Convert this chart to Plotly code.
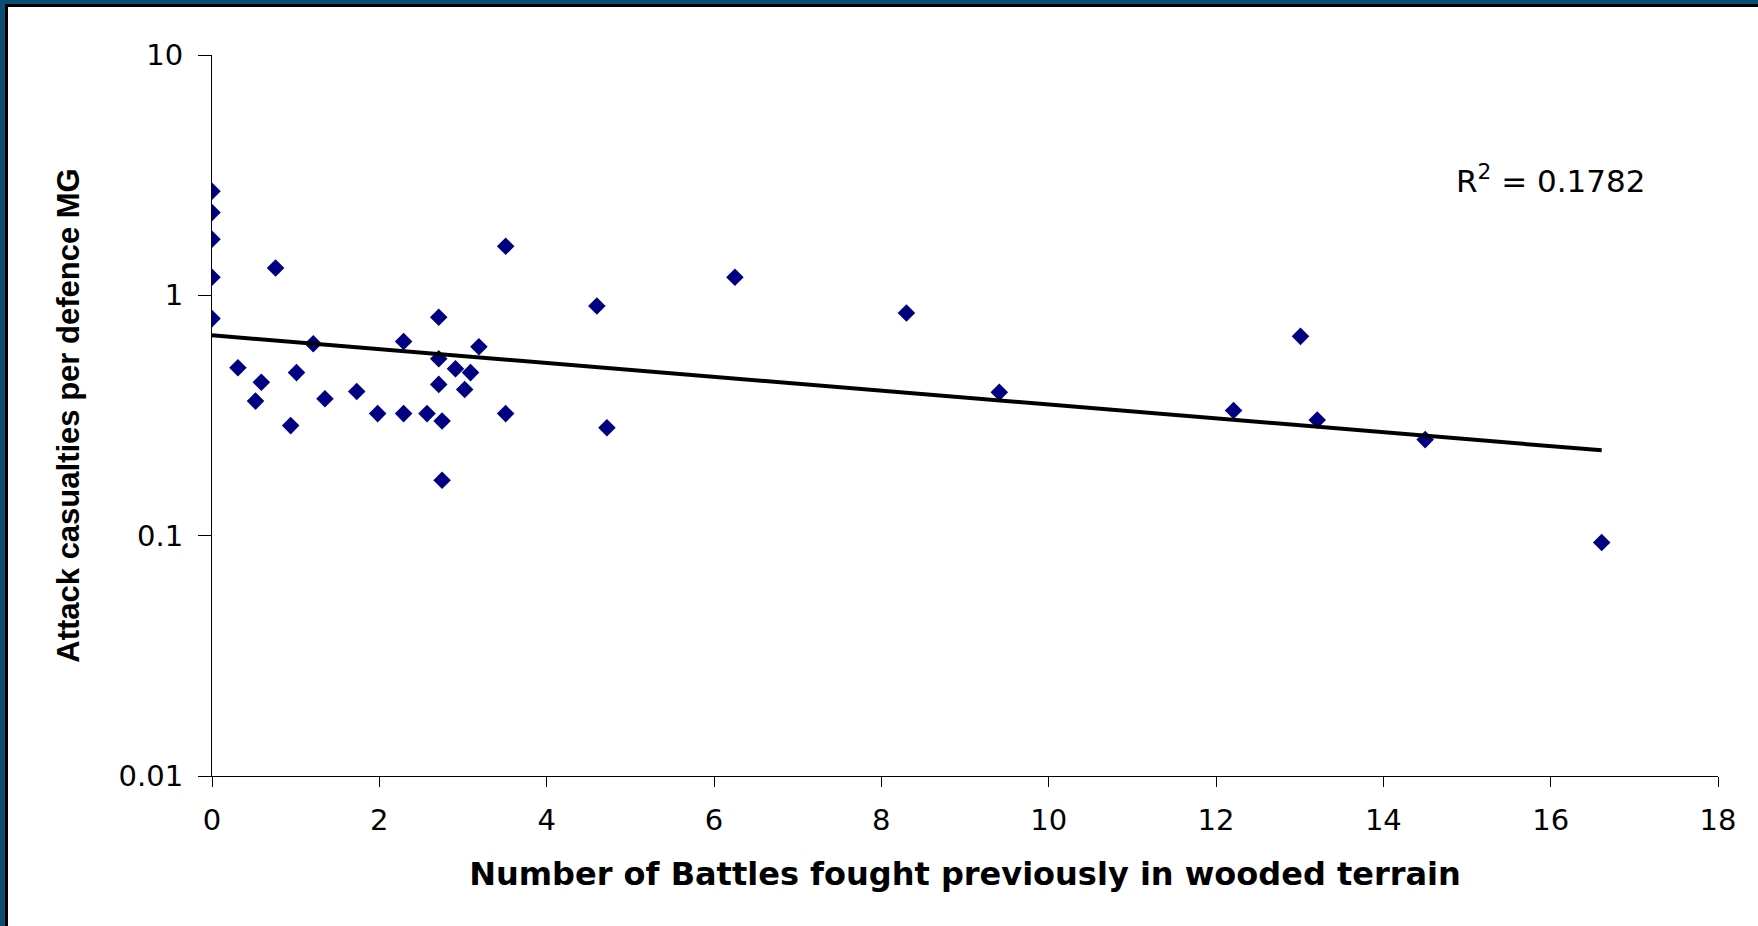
import numpy as np
import plotly.graph_objects as go

# ---- data ----
battles = [0, 0, 0, 0, 0, 0.76, 0.31, 0.59, 0.52, 0.94,
           1.01, 1.21, 1.35, 1.73, 1.98, 2.29, 2.29, 2.57, 2.71, 2.71,
           2.71, 2.75, 2.75, 2.91, 3.09, 3.02, 3.19, 3.51, 3.51, 4.60,
           4.72, 6.25, 8.30, 9.41, 12.21, 13.01, 13.21, 14.50, 16.61]
casualties = [2.71, 2.21, 1.71, 1.19, 0.80, 1.30, 0.50, 0.435, 0.363, 0.287,
              0.477, 0.629, 0.371, 0.398, 0.322, 0.322, 0.643, 0.322, 0.81, 0.545,
              0.426, 0.30, 0.17, 0.495, 0.477, 0.406, 0.611, 1.60, 0.322, 0.903,
              0.281, 1.19, 0.844, 0.395, 0.332, 0.675, 0.303, 0.251, 0.0937]

x_ticks = [0, 2, 4, 6, 8, 10, 12, 14, 16, 18]
y_ticks = [0.01, 0.1, 1, 10]
y_ticktext = ["0.01", "0.1", "1", "10"]
r2_label = "R<sup>2</sup> = 0.1782"

# exponential trendline (least squares on log values, as a spreadsheet does)
xa = np.array(battles, dtype=float)
la = np.log10(np.array(casualties, dtype=float))
slope, intercept = np.polyfit(xa, la, 1)
trend_x = [xa.min(), xa.max()]
trend_y = [10 ** (intercept + slope * v) for v in trend_x]

WIDE = "DejaVu Sans, Verdana, sans-serif"
ARIAL = "Liberation Sans, Arial, sans-serif"
NAVY = "#000080"
FRAME = "#0b4d73"

fig = go.Figure()
fig.add_trace(go.Scatter(
    x=battles, y=casualties, mode="markers",
    marker=dict(symbol="diamond", size=13.5, color=NAVY, line=dict(width=0)),
    showlegend=False, hoverinfo="x+y"))
fig.add_trace(go.Scatter(
    x=trend_x, y=trend_y, mode="lines",
    line=dict(color="black", width=4),
    showlegend=False, hoverinfo="skip"))

fig.add_annotation(x=16.0, y=np.log10(3.04), xref="x", yref="y",
                   text=r2_label, showarrow=False,
                   font=dict(family=WIDE, size=31, color="black"))

W, H = 1758, 926
L, R, T, B = 212, 40, 55, 150
PW, PH = W - L - R, H - T - B

shapes = []
def prect(x0, x1, y0, y1, color):
    # pixel rectangle relative to the plot area's bottom-left corner
    shapes.append(dict(type="rect", xref="paper", yref="paper",
                       xsizemode="pixel", ysizemode="pixel",
                       xanchor=0, yanchor=0,
                       x0=x0, x1=x1, y0=y0, y1=y1,
                       fillcolor=color, line=dict(width=0), layer="above"))

# frame: blue band on left and top, thin black inner line
prect(-L, -L + 5, -B, PH + T, FRAME)
prect(-L, PW + R, PH + T - 4, PH + T, FRAME)
prect(-L + 5, -L + 8, -B, PH + T - 4, "black")
prect(-L + 5, PW + R, PH + T - 7, PH + T - 4, "black")

fig.update_layout(
    width=W, height=H,
    margin=dict(l=L, r=R, t=T, b=B, autoexpand=False),
    paper_bgcolor="white", plot_bgcolor="white",
    shapes=shapes,
    xaxis=dict(
        range=[0, 18], tickmode="array", tickvals=x_ticks,
        ticks="outside", ticklen=10, tickwidth=1, tickcolor="black",
        showline=True, linecolor="black", linewidth=1,
        showgrid=False, zeroline=False, automargin=False,
        ticklabelstandoff=8,
        tickfont=dict(family=WIDE, size=29, color="black"),
        title=dict(text="<b>Number of Battles fought previously in wooded terrain</b>",
                   font=dict(family=WIDE, size=32, color="black"), standoff=26),
    ),
    yaxis=dict(
        type="log", range=[-2, 1], tickmode="array",
        tickvals=y_ticks, ticktext=y_ticktext,
        ticks="outside", ticklen=13, tickwidth=1, tickcolor="black",
        showline=True, linecolor="black", linewidth=1,
        showgrid=False, zeroline=False, automargin=False,
        ticklabelstandoff=9,
        tickfont=dict(family=WIDE, size=29, color="black"),
        title=dict(text="<b>Attack casualties per defence MG</b>",
                   font=dict(family=ARIAL, size=31, color="black"), standoff=29),
    ),
)

fig.write_html("out.html",
               config={"displayModeBar": False},
               post_script="document.body.style.margin='0px';"
                           "document.body.style.overflow='hidden';")
